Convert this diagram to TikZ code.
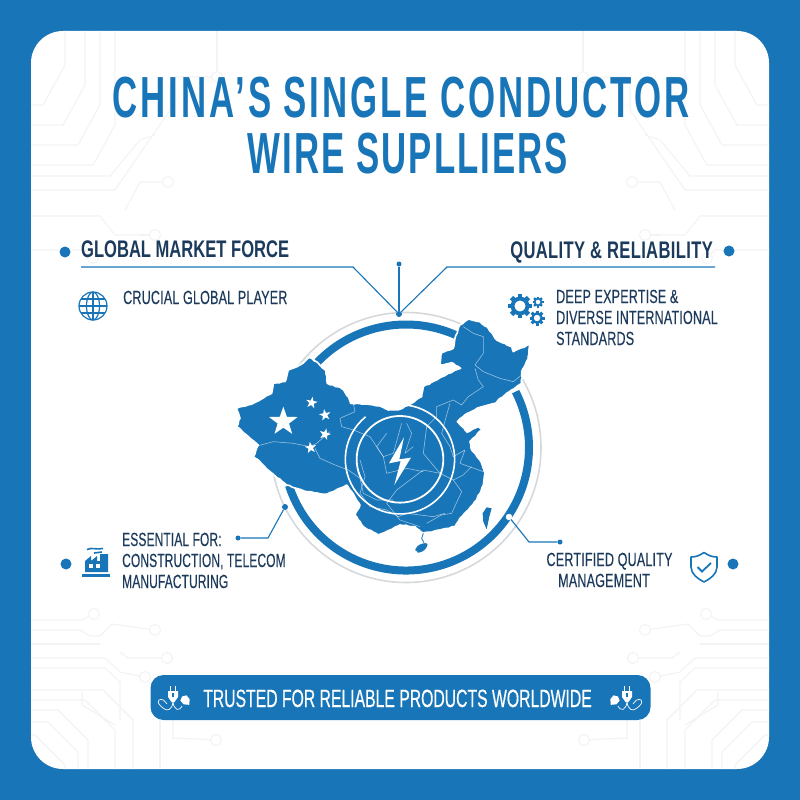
\documentclass[tikz,border=0pt]{standalone}
\usepackage{fontspec}
\usetikzlibrary{calc,shapes.geometric,decorations.pathmorphing}
\newfontfamily\titlefont[FakeStretch=0.6,LetterSpace=5]{Liberation Sans}
\newfontfamily\titlefontb[FakeStretch=0.6,LetterSpace=3.5]{Liberation Sans}
\newfontfamily\headfont[FakeStretch=0.69]{Liberation Sans}
\newfontfamily\bodyfont[FakeStretch=0.66,LetterSpace=1,FakeBold=0.25]{Liberation Sans}
\newfontfamily\bodyfontb[FakeStretch=0.63,LetterSpace=0.7,FakeBold=0.25]{Liberation Sans}
\newfontfamily\bannerfont[FakeStretch=0.63,FakeBold=0.4]{Liberation Sans}
\definecolor{wireblue}{HTML}{1875B8}
\definecolor{navy}{HTML}{1C3A5C}
\definecolor{ringgray}{HTML}{D6D9DB}
\definecolor{tracegray}{HTML}{F1F3F5}

% faint circuit traces, left half only (mirrored in the picture)
\newcommand{\circuittraces}{%
    % top corner
    \foreach \xa/\ya in {65/105,85/125,100/145,115/165}
        \draw[trace] (\xa,31) -- (\xa,\ya-40) -- (\xa-22,\ya) -- (31,\ya);
    \draw[trace] (217,31) -- (217,72);
    \node[tracepad] (padA) at (217,77) {};
    \draw[trace] (padA) -- (175,77) -- (170,85) -- (170,110) -- (115,190) -- (31,190);
    \draw[trace] (31,176) -- (110,176) -- (140,140) -- (155,135);
    \node[tracepad] (padB) at (168,182) {};
    \draw[trace] (padB) -- (140,182) -- (125,210) ;
    \draw[trace] (31,216) -- (100,216) -- (115,235) -- (140,235);
    \node[tracepad] (padC) at (155,235) {};
    \draw[trace] (padC) -- (140,235);
    \node[tracepad] (padD) at (93,258) {};
    \draw[trace] (31,250) -- (85,250) -- (padD);
    % bottom corner
    \node[tracepad] (padE) at (94,614) {};
    \draw[trace] (31,620) -- (82,620) -- (padE);
    \node[tracepad] (padF) at (155,630) {};
    \draw[trace] (31,630) -- (80,630) -- (90,636) -- (100,636) -- (112,624) -- (padF);
    \draw[trace] (31,644) -- (100,644);
    \node[tracepad] (padG) at (167,658) {};
    \draw[trace] (120,652) -- (128,658) -- (padG);
    \node[tracepad] (padH) at (145,677) {};
    \draw[trace] (31,658) -- (105,658) -- (120,672) -- (padH);
    \draw[trace] (31,668) -- (105,668) -- (120,682) -- (120,720);
    \foreach \xa/\ya in {133/690,115/700,88/710,78/722,65/735}
        \draw[trace] (31,\ya) -- (\xa-30,\ya) -- (\xa,\ya+30) -- (\xa,769);
    \draw[trace] (82,692) -- (82,705) -- (115,725);
    \draw[trace] (160,720) -- (160,769);
    \node[tracepad] (padI) at (216,740) {};
    \draw[trace] (173,720) -- (173,738) -- (padI);
}

% wall plug with its two cords, used in the banner
\newcommand{\plugicon}{%
    \fill[white] (-5,-7) -- (5,-7) -- (5,-1) -- (1.5,4) -- (-1.5,4) -- (-5,-1) -- cycle;
    \draw[white,line width=1.3] (-2.8,-7) -- (-2.8,-12);
    \draw[white,line width=1.3] (2.8,-7) -- (2.8,-12);
    \fill[wireblue] (-0.7,-5) rectangle (0.7,-1);
    \draw[white,line width=.7] (0,4) .. controls (-1,12) and (-6,14) .. (-10,10) .. controls (-14,7) and (-16,4) .. (-14,2) .. controls (-11,0) and (-8,3) .. (-6,6);
    \draw[white,line width=.7] (0,4) .. controls (1,12) and (6,14) .. (9,8);
    \fill[white,rotate around={40:(13,3)}] (9,-1) -- (13,-3) -- (17,-1) -- (17,4) -- (13,8) -- (9,4) -- cycle;
}

% gear drawn as a ring with teeth
\newcommand{\gearicon}[3]{%
    \foreach \ang in {0,45,...,315}
        \fill[wireblue,shift={(#1,#2)},rotate=\ang] (-0.2*#3,-#3) rectangle (0.2*#3,-0.7*#3);
    \draw[wireblue,line width=0.32*#3] (#1,#2) circle (0.62*#3);
}

\begin{document}
\begin{tikzpicture}[x=1pt,y=-1pt,
    trace/.style={tracegray,line width=1.1},
    tracepad/.style={circle,draw=tracegray,line width=1.1,minimum size=11,inner sep=0},
    wire/.style={wireblue,line width=1.1},
    bigdot/.style={circle,fill=wireblue,minimum size=11,inner sep=0},
    smalldot/.style={circle,fill=wireblue,minimum size=6,inner sep=0},
    titletext/.style={wireblue,font=\titlefont\bfseries\fontsize{58}{58}\selectfont,anchor=base},
    headtext/.style={navy,font=\headfont\bfseries\fontsize{24}{24}\selectfont},
    bodytext/.style={navy,font=\bodyfont\fontsize{19}{21}\selectfont},
    bodytextb/.style={navy,font=\bodyfontb\fontsize{19}{21}\selectfont},
    flagstar/.style={star,star points=5,star point ratio=2.5,fill=white,inner sep=0},
    province/.style={white,opacity=.55,line width=.6,line join=round}]

% === Frame ===
\fill[wireblue] (0,0) rectangle (800,800);
\fill[white,rounded corners=32] (31,31) rectangle (769,769);

% === Circuit background ===
\begin{scope}
    \circuittraces
\end{scope}
\begin{scope}[shift={(800,0)},xscale=-1]
    \circuittraces
\end{scope}

% === Title ===
\node[titletext] (titleA) at (401,117) {CHINA’S SINGLE CONDUCTOR};
\node[titletext,font=\titlefontb\bfseries\fontsize{58}{58}\selectfont] (titleB) at (408,173) {WIRE SUPLLIERS};

% === Rings ===
\coordinate (ringc) at (406,447.5);
\draw[ringgray,line width=1.6] (ringc) circle (135);
\draw[wireblue,line width=8] ([shift={(-136:123)}]ringc) arc[start angle=-136,end angle=-66,radius=123];
\draw[wireblue,line width=8] ([shift={(162:123)}]ringc) arc[start angle=162,end angle=-27,radius=123];

% === Map, in its own small grid ===
\begin{scope}[shift={(220,300)},x=0.3333pt,y=-0.3333pt]
    % mainland
    \fill[wireblue,draw=white,line width=1.6,line join=round,decorate,decoration={random steps,segment length=3,amplitude=.5}]
        (268,172) -- (295,190) -- (318,212) -- (322,250) -- (365,265) -- (385,290) -- (392,310) -- (440,312)
        -- (480,318) -- (505,330) -- (540,328) -- (575,310) -- (605,290) -- (610,260) -- (650,240) -- (685,220)
        -- (722,205) -- (695,188) -- (660,195) -- (665,158) -- (700,145) -- (705,115) -- (720,75) -- (745,57)
        -- (780,65) -- (805,85) -- (830,120) -- (875,140) -- (880,155) -- (930,133) -- (925,175) -- (905,215)
        -- (905,250) -- (875,270) -- (835,300) -- (825,310) -- (780,322) -- (742,340) -- (712,365) -- (742,397)
        -- (775,380) -- (785,390) -- (750,425) -- (755,450) -- (780,480) -- (795,520) -- (790,555) -- (770,600)
        -- (745,630) -- (720,655) -- (705,680) -- (660,690) -- (610,700) -- (585,680) -- (540,675) -- (510,690)
        -- (475,705) -- (430,680) -- (405,645) -- (420,615) -- (395,575) -- (380,555) -- (320,583) -- (260,575)
        -- (200,555) -- (150,515) -- (115,480) -- (100,470) -- (115,435) -- (90,415) -- (50,380) -- (60,355)
        -- (50,325) -- (100,310) -- (155,280) -- (160,250) -- (195,245) -- (205,210) -- (240,195) -- cycle;
    % islands
    \fill[wireblue] (800,622) -- (815,625) -- (808,650) -- (800,688) -- (790,665) -- (788,640) -- cycle;
    \fill[wireblue,rounded corners=3] (585,745) -- (600,732) -- (625,728) -- (620,745) -- (600,760) -- (588,755) -- cycle;
    \draw[wireblue,line width=.8] (610,700) -- (605,715) -- (612,728);
    % province borders
    \draw[province] (115,437) -- (160,425) -- (220,430) -- (270,440) -- (290,430) -- (330,395);
    \draw[province] (285,445) -- (300,475) -- (345,495) -- (385,510) -- (420,535) -- (430,580) -- (470,600) -- (520,600);
    \draw[province] (400,310) -- (405,335) -- (360,355) -- (365,380) -- (400,390) -- (450,410) -- (490,470) -- (520,460) -- (545,370);
    \draw[province] (730,80) -- (760,100) -- (790,110) -- (790,160) -- (765,195) -- (790,215) -- (840,235) -- (880,245) -- (905,225);
    \draw[province] (765,205) -- (775,240) -- (790,260) -- (745,290) -- (725,315) -- (700,300) -- (650,320) -- (650,350) -- (620,380) -- (610,460) -- (660,520) -- (700,540);
    \draw[province] (690,310) -- (680,345) -- (665,400) -- (690,440) -- (700,470) -- (735,450) -- (720,490) -- (790,515);
    \draw[province] (700,540) -- (730,525) -- (755,500);
    \draw[province] (700,540) -- (725,575) -- (695,640) -- (665,645) -- (620,670);
    \draw[province] (660,520) -- (610,510) -- (570,540) -- (530,570) -- (500,610) -- (540,660) -- (600,680);
    \draw[province] (500,400) -- (470,440) -- (490,470) -- (500,520) -- (560,505) -- (610,515);
    \draw[province] (420,480) -- (435,530) -- (420,580) -- (450,620) -- (500,630) -- (535,650) -- (560,640) -- (640,650) -- (675,640);
    \draw[province] (560,370) -- (575,400) -- (555,460) -- (580,440);
    % flag stars
    \foreach \sx/\sy/\sd/\srot [count=\i] in {190/365/30/0,275/308/12/-10,315/345/12/10,315/403/12/-15,272/443/12/8}
        \node[flagstar,minimum size=\sd,rotate=\srot] (flagstar\i) at (\sx,\sy) {};
    % centre badge
    \coordinate (badge) at (540,478);
    \draw[white,line width=1.8] (badge) circle (130);
    \draw[white,line width=1.6] ([shift={(-88:164)}]badge) arc[start angle=-88,end angle=231,radius=164];
    \fill[white] (552,412) -- (507,490) -- (542,483) -- (523,555) -- (573,473) -- (538,478) -- cycle;
\end{scope}

% === Top connectors ===
\node[smalldot] (hub) at (399,314) {};
\node[smalldot,minimum size=5] (hubtop) at (399,264) {};
\coordinate (ruleLa) at (81,267);
\coordinate (ruleLb) at (353,267);
\coordinate (ruleRa) at (715,267);
\coordinate (ruleRb) at (447,267);
\draw[wire] (ruleLa) -- (ruleLb) -- (hub);
\draw[wire] (ruleRa) -- (ruleRb) -- (hub);
\draw[wire] (hubtop) -- (hub);

% === Upper left block ===
\node[bigdot] (dotA) at (65,252) {};
\node[headtext,anchor=base west,inner sep=0] (headA) at (81,257) {GLOBAL MARKET FORCE};
\node[bodytext,anchor=base west,inner sep=0] (textA) at (123,304) {CRUCIAL GLOBAL PLAYER};
\begin{scope}[shift={(93,306)},wireblue,line width=1.2]
    \draw (0,0) circle (14);
    \draw (0,0) ellipse (6.5 and 14);
    \draw (0,-14) -- (0,14);
    \draw (-14,0) -- (14,0);
    \draw (-12.2,-7) -- (12.2,-7);
    \draw (-12.2,7) -- (12.2,7);
\end{scope}

% === Upper right block ===
\node[bigdot] (dotB) at (729,251) {};
\node[headtext,anchor=base east,inner sep=0] (headB) at (713,258) {\addfontfeature{LetterSpace=1.5}QUALITY \& RELIABILITY};
\node[bodytext,anchor=base west,inner sep=0,align=left] (textB) at (556,303) {DEEP EXPERTISE \&};
\node[bodytext,anchor=base west,inner sep=0] (textC) at (556,324) {DIVERSE INTERNATIONAL};
\node[bodytext,anchor=base west,inner sep=0] (textD) at (556,345) {STANDARDS};
\gearicon{520}{306}{12}
\gearicon{538}{302}{5.5}
\gearicon{537}{318}{7.5}

% === Lower left block ===
\node[bigdot] (dotC) at (66,564) {};
\node[smalldot,minimum size=5] (wireCa) at (238,538) {};
\node[smalldot] (wireCc) at (285,507) {};
\coordinate (wireCb) at (268,538);
\draw[wire] (wireCa) -- (wireCb) -- (wireCc);
\node[bodytextb,anchor=base west,inner sep=0] (textE) at (122,546) {ESSENTIAL FOR:};
\node[bodytextb,anchor=base west,inner sep=0] (textF) at (122,567) {CONSTRUCTION, TELECOM};
\node[bodytextb,anchor=base west,inner sep=0] (textG) at (122,588) {MANUFACTURING};
\begin{scope}[shift={(82,547)}]
    \fill[wireblue] (3,25) -- (3,14) -- (9,9) -- (9,14) -- (15,9) -- (15,14) -- (18,14) -- (18,7) -- (26,7) -- (26,25) -- cycle;
    \fill[wireblue] (0,27) rectangle (28,29.5);
    \fill[white] (7,17) rectangle (11,20.5);
    \fill[white] (14,17) rectangle (18,20.5);
    \draw[wireblue,line width=1.6] (5,2.5) .. controls (10,0) and (14,3) .. (21,1.5);
    \draw[wireblue,line width=1.6] (12,6) -- (20,5);
\end{scope}

% === Lower right block ===
\node[bigdot] (dotD) at (733,564) {};
\node[circle,fill=white,draw=white,minimum size=6,inner sep=0] (wireDa) at (509,517) {};
\node[smalldot,minimum size=5] (wireDc) at (560,542) {};
\coordinate (wireDb) at (529,542);
\draw[wire] (wireDa) -- (wireDb) -- (wireDc);
\node[bodytext,anchor=base,inner sep=0] (textH) at (609.5,566) {CERTIFIED QUALITY};
\node[bodytext,anchor=base,inner sep=0] (textI) at (604,587) {MANAGEMENT};
\draw[wireblue,line width=1.6,line join=round] (704,552.5) .. controls (709,556) and (713,557) .. (717,557) -- (717,567) .. controls (717,574) and (710,579) .. (704,582) .. controls (698,579) and (691,574) .. (691,567) -- (691,557) .. controls (695,557) and (699,556) .. (704,552.5) -- cycle;
\draw[wireblue,line width=1.8] (697.5,567) -- (702,571.5) -- (711,563);

% === Banner ===
\node[fill=wireblue,rounded corners=13,minimum width=500,minimum height=45,inner sep=0] (banner) at (400.5,697.5) {};
\node[white,font=\bannerfont\fontsize{25}{25}\selectfont,anchor=base,inner sep=0] (bannertext) at (397.5,707) {TRUSTED FOR RELIABLE PRODUCTS WORLDWIDE};
\begin{scope}[shift={(173,698)}]
    \plugicon
\end{scope}
\begin{scope}[shift={(627,698)},xscale=-1]
    \plugicon
\end{scope}

\end{tikzpicture}
\end{document}
